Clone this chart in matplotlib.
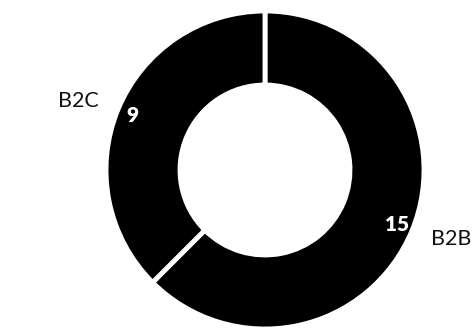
import matplotlib
matplotlib.use("Agg")
import matplotlib.pyplot as plt

labels = ["B2B", "B2C"]
counts = [15, 9]
colors = ["#000000", "#000000"]

plt.rcParams['font.family'] = ['Lato', 'DejaVu Sans']

fig = plt.figure(figsize=(4.72, 3.28), dpi=100)
ax = fig.add_axes([0, 0, 1, 1])

cx, cy = 265, 158
total = sum(counts)
wedges, texts, autotexts = ax.pie(
    counts, labels=labels, colors=colors,
    startangle=90, counterclock=False,
    center=(cx, cy), radius=159,
    labeldistance=1.13, pctdistance=0.9,
    autopct=lambda p: f"{p * total / 100:.0f}",
    wedgeprops=dict(width=74, edgecolor='white', linewidth=3.5),
    textprops=dict(fontsize=15.5),
    frame=True,
)
ax.axis('off')
ax.set_xlim(0, 472)
ax.set_ylim(0, 328)
ax.set_aspect('equal')

# pie picks alignment from absolute x, fix it relative to the centre
for t in texts:
    x, _ = t.get_position()
    t.set_ha('left' if x > cx else 'right')
    t.set_color('#111111')
for t in autotexts:
    t.set_color('white')
    t.set_fontweight('heavy')
    t.set_fontsize(15)

fig.savefig("out.png", dpi=100)
